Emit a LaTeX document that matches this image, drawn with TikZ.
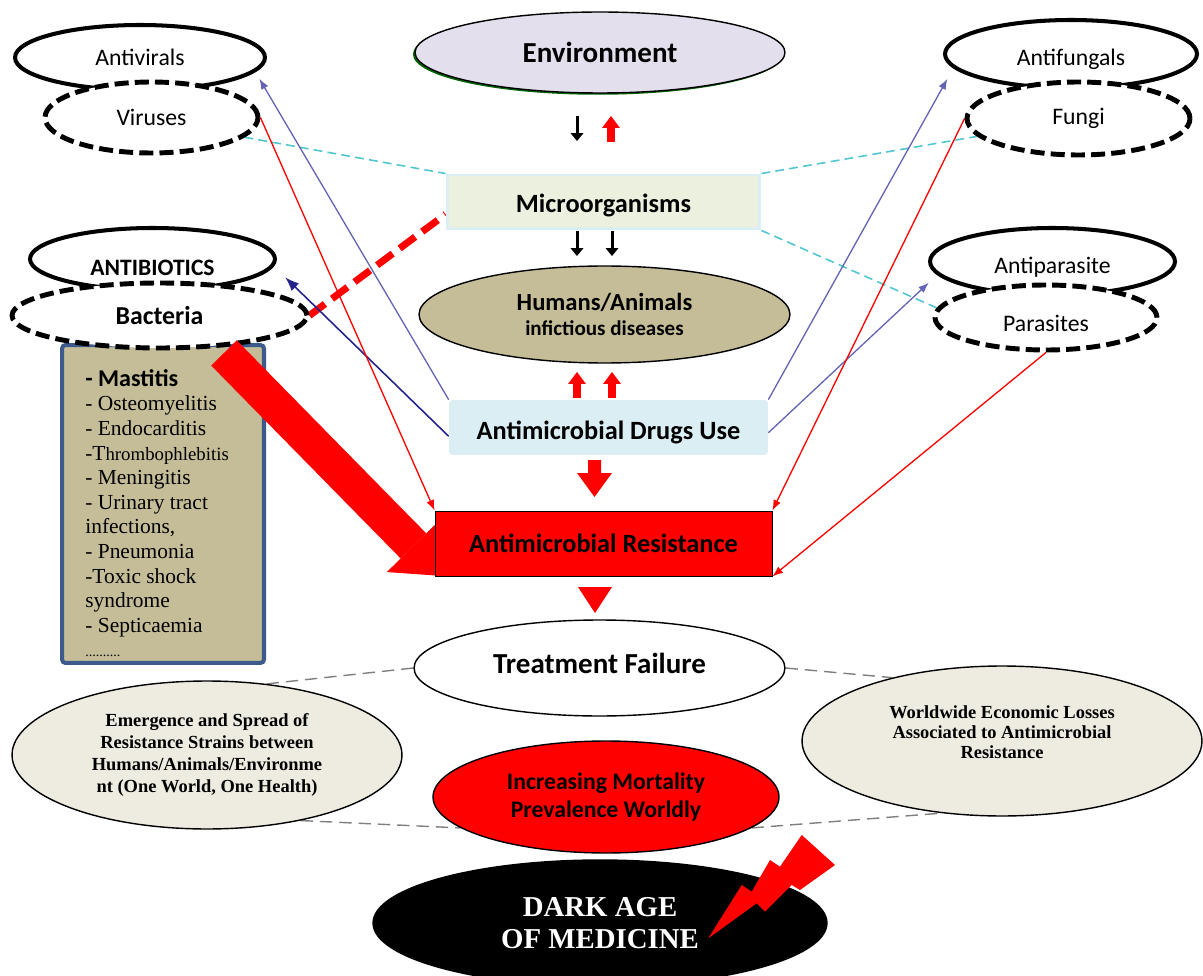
\documentclass[tikz,border=0pt]{standalone}
\usepackage{fontspec}
\setmainfont{Carlito}
\newfontfamily\tnr{Liberation Serif}
\usetikzlibrary{shapes.geometric,arrows.meta,backgrounds,shadows}

\definecolor{envfill}{HTML}{E4DFEC}
\definecolor{microfill}{HTML}{EBF1DE}
\definecolor{paleblue}{HTML}{DAEEF3}
\definecolor{khaki}{HTML}{C4BD97}
\definecolor{beige}{HTML}{EEECE1}
\definecolor{boxblue}{HTML}{3C5A8C}
\definecolor{drugblue}{HTML}{6464B4}
\definecolor{navy}{HTML}{23238A}
\definecolor{tealdash}{HTML}{4FC6D0}
\definecolor{greyline}{HTML}{7F7F7F}

\newcommand{\dropby}[2]{\raisebox{-#1}[\height][\depth]{#2}}

\tikzset{
  drug/.style={ellipse, draw, line width=2.3pt, fill=white, inner sep=0pt,
    font=\fontsize{13.5}{16}\selectfont},
  bug/.style={ellipse, draw, line width=2.8pt, dash pattern=on 8pt off 3.5pt,
    fill=white, inner sep=0pt, font=\fontsize{13.5}{16}\selectfont},
  bigell/.style={ellipse, draw, line width=0.8pt, inner sep=0pt, align=center},
  outcome/.style={bigell, fill=beige, font=\tnr\bfseries\fontsize{10.5}{12.6}\selectfont},
  outcometxt/.style={font=\tnr\bfseries\fontsize{10.5}{11.4}\selectfont, align=center},
  flowbox/.style={rectangle, inner sep=0pt, font=\bfseries\fontsize{15}{18}\selectfont},
  disbox/.style={rectangle, draw=boxblue, line width=2.3pt, fill=khaki, rounded corners=2pt,
    minimum width=4.04cm, minimum height=6.36cm},
  listtxt/.style={inner sep=0pt, align=left, font=\tnr\fontsize{12.2}{14}\selectfont},
  toarrow/.style={line width=0.75pt, -{Latex[length=6pt,width=4.5pt]}},
  tealline/.style={tealdash, line width=0.9pt, dash pattern=on 5pt off 3pt},
  greydash/.style={greyline, line width=0.8pt, dash pattern=on 7pt off 4pt},
  blackdown/.style={black, line width=1.7pt, -{Triangle[length=4.5pt,width=7.4pt,line width=0pt]}},
  redblock/.style={red, line width=4pt, -{Triangle[length=6.8pt,width=10.2pt,line width=0pt]}}
}

\begin{document}
\begin{tikzpicture}[x=0.02cm, y=-0.02cm]
    \useasboundingbox (0,0) rectangle (1203,976);

    % Drugs and the microbes they target
    \node[drug, minimum width=5cm, minimum height=1.3cm] (antivir) at (140,57.5) {Antivirals};
    \node[bug, minimum width=4.26cm, minimum height=1.42cm] (virus) at (151.5,117.5) {Viruses};
    \node[drug, font=\bfseries\fontsize{13.4}{16}\selectfont, minimum width=4.9cm, minimum height=1.24cm]
        (antibio) at (152.5,259) {\dropby{5pt}{ANTIBIOTICS}};

    % Diseases list — under the bacteria
    \node[disbox] (dis) at (163,504) {};
    \node[listtxt, anchor=north west] (distxt) at (85,369) {
        {\rmfamily\bfseries\fontsize{13.7}{14}\selectfont - Mastitis}\\
        - Osteomyelitis\\
        - Endocarditis\\
        -T{\fontsize{10.7}{14}\selectfont hrombophlebitis}\\
        - Meningitis\\
        - Urinary tract\\
        infections,\\
        - Pneumonia\\
        -Toxic shock\\
        syndrome\\
        - Septicaemia\\
        {\fontsize{8}{14}\selectfont ..........}
    };
    \node[bug, font=\bfseries\fontsize{14.7}{16}\selectfont, minimum width=5.9cm, minimum height=1.3cm]
        (bact) at (159.5,315.5) {Bacteria};

    \node[drug, minimum width=5.04cm, minimum height=1.36cm] (antifun) at (1071,54) {\dropby{3pt}{Antifungals}};
    \node[bug, minimum width=4.46cm, minimum height=1.46cm] (fungi) at (1078.5,118.5) {Fungi};
    \node[drug, minimum width=4.9cm, minimum height=1.34cm] (antipar) at (1052.5,261.5) {\dropby{3pt}{Antiparasite}};
    \node[bug, minimum width=4.44cm, minimum height=1.3cm] (para) at (1046,317.5) {\dropby{3.5pt}{Parasites}};

    % Central column
    \node[bigell, fill=envfill, minimum width=7.4cm, minimum height=1.62cm,
        font=\bfseries\fontsize{16.5}{20}\selectfont,
        drop shadow={shadow xshift=-1.2pt, shadow yshift=-1pt, fill=green!40!black, opacity=1}]
        (env) at (600,52.5) {Environment};
    \node[flowbox, fill=microfill, draw=paleblue, line width=1.7pt, minimum width=6.26cm,
        minimum height=1.08cm] (micro) at (603.5,202) {\dropby{2pt}{Microorganisms}};
    \node[bigell, fill=khaki, minimum width=7.42cm, minimum height=1.94cm,
        font=\bfseries\fontsize{14}{14.7}\selectfont]
        (hum) at (604.5,314.5) {Humans/Animals\\{\fontsize{12}{14.7}\selectfont infictious diseases}};
    \node[flowbox, fill=paleblue, rounded corners=2pt, minimum width=6.38cm, minimum height=1.1cm]
        (adu) at (608.5,427.5) {\dropby{3pt}{Antimicrobial Drugs Use}};

    % Big arrow — bacteria to resistance
    \coordinate (bigbase) at (224,353);
    \coordinate (bigtip) at (443,576);
    \draw[red, line width=20.4pt, -{Triangle[length=24pt,width=42.5pt,line width=0pt]}] (bigbase) -- (bigtip);

    \node[flowbox, fill=red, draw=black, line width=0.5pt, minimum width=6.74cm, minimum height=1.3cm]
        (amr) at (603.5,543.5) {Antimicrobial Resistance};
    \node[bigell, fill=white, minimum width=7.42cm, minimum height=1.92cm,
        font=\bfseries\fontsize{16.5}{20}\selectfont]
        (tf) at (599.5,668) {\dropby{-2.5pt}{Treatment Failure}};

    % Consequences
    \node[outcome, minimum width=7.8cm, minimum height=2.96cm] (lem) at (207,755)
        {Emergence and Spread of\\Resistance Strains between\\Humans/Animals/Environme\\nt (One World, One Health)};
    \node[outcome, minimum width=8cm, minimum height=3cm,
        label={[name=remtxt, outcometxt, yshift=5pt]center:Worldwide Economic Losses\\Associated to Antimicrobial\\Resistance}]
        (rem) at (1002,741) {};
    \node[bigell, fill=red, minimum width=6.92cm, minimum height=2.24cm,
        font=\bfseries\fontsize{13.5}{16.4}\selectfont]
        (mort) at (606,797) {Increasing Mortality\\Prevalence Worldly};
    \node[bigell, fill=black, text=white, minimum width=9.08cm, minimum height=2.52cm,
        font=\tnr\bfseries\fontsize{16.4}{18}\selectfont]
        (dark) at (600,923) {DARK AGE\\OF MEDICINE};

    % Small arrows in the column
    \draw[blackdown] (577,116) -- (577,141);
    \draw[redblock] (611,142) -- (611,116);
    \foreach \x in {577,612}
        \draw[blackdown] (\x,231) -- (\x,256);
    \foreach \x in {577,612}
        \draw[redblock] (\x,398) -- (\x,372);
    \fill[red] (588,460) -- (601,460) -- (601,473) -- (612,473) -- (594.5,497)
        -- (577,473) -- (588,473) -- cycle;
    \fill[red] (578,587) -- (612,587) -- (595,613) -- cycle;

    % Lightning
    \fill[red] (708.3,938.3) -- (741.7,885) -- (751.7,891.7) -- (770,860) -- (780,866.7)
        -- (801.7,835) -- (835,865) -- (800,890) -- (791.7,885) -- (765,911.7)
        -- (756.7,903.3) -- cycle;

    \begin{scope}[on background layer]
        % links to microorganisms
        \draw[tealline] (virus.-12) -- (micro.north west);
        \draw[tealline] (micro.north east) -- (fungi.190);
        \draw[tealline] (micro.south east) -- (para.175);
        \draw[red, line width=4pt, dash pattern=on 11pt off 5pt] (bact.east) -- ([yshift=-7pt]micro.west);

        % drug use -> drugs
        \draw[toarrow, drugblue] (adu.north west) -- ([xshift=11pt]antivir.-12);
        \draw[line width=0.9pt, navy, -{Latex[length=8pt,width=6pt]}]
            ([yshift=-5pt]adu.west) -- ([xshift=16.5pt]antibio.-10);
        \draw[toarrow, drugblue] (adu.north east) -- ([xshift=-17.6pt]antifun.195);
        \draw[toarrow, drugblue] ([yshift=-3pt]adu.east) -- ([xshift=-13.6pt]antipar.192);

        % microbes -> resistance
        \draw[toarrow, red] (virus.east) -- (amr.north west);
        \draw[toarrow, red] (fungi.west) -- (amr.north east);
        \draw[toarrow, red] (para.south) -- (amr.south east);

        % outcome ring
        \draw[greydash] (tf.west) -- (lem.50);
        \draw[greydash] (tf.east) -- (rem.150);
        \draw[greydash] (lem.-35) -- (mort.192);
        \draw[greydash] (mort.-12) -- (rem.-130);
    \end{scope}
\end{tikzpicture}
\end{document}
